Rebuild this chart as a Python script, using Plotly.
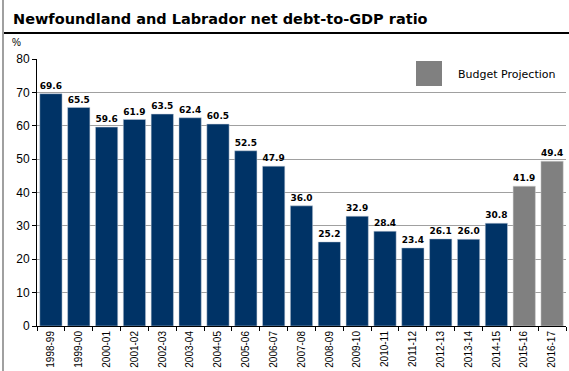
import plotly.graph_objects as go

years = ["1998-99","1999-00","2000-01","2001-02","2002-03","2003-04","2004-05","2005-06",
         "2006-07","2007-08","2008-09","2009-10","2010-11","2011-12","2012-13","2013-14","2014-15"]
actual = [69.6,65.5,59.6,61.9,63.5,62.4,60.5,52.5,47.9,36.0,25.2,32.9,28.4,23.4,26.1,26.0,30.8]
proj_years = ["2015-16","2016-17"]
projection = [41.9,49.4]

W, H = 569, 371
L, R, T, B = 37, 3, 59, 45
pw, ph = W - L - R, H - T - B

def px_x(x):
    return (x - L) / pw

def px_y(y):
    return (H - B - y) / ph

label_font = dict(family="DejaVu Sans", size=10, color="black")

fig = go.Figure()
fig.add_trace(go.Bar(x=years, y=actual, marker_color="#003366", showlegend=False,
                     marker_line=dict(color="#c8d0dc", width=0.5),
                     text=[f"{v:.1f}" for v in actual], textposition="outside",
                     texttemplate="<b>%{text}</b>", textfont=label_font, cliponaxis=False))
fig.add_trace(go.Bar(x=proj_years, y=projection, marker_color="#808080", name="Budget Projection",
                     showlegend=False, marker_line=dict(color="#d0d0d0", width=0.5),
                     text=[f"{v:.1f}" for v in projection], textposition="outside",
                     texttemplate="<b>%{text}</b>", textfont=label_font, cliponaxis=False))

fig.update_layout(
    width=W, height=H, margin=dict(l=L, r=R, t=T, b=B),
    paper_bgcolor="white", plot_bgcolor="white",
    barmode="overlay", bargap=0.2,
    showlegend=False,
    xaxis=dict(type="category", categoryorder="array", categoryarray=years + proj_years,
               tickangle=-90, tickfont=dict(family="Liberation Sans", size=10, color="black"),
               ticks="outside", tickson="boundaries", ticklen=4, tickcolor="black",
               showline=True, linecolor="black", linewidth=1, range=[-0.5, 18.5],
               automargin=False),
    yaxis=dict(range=[0, 80], dtick=10, showgrid=True, gridcolor="#a0a0a0", gridwidth=1,
               ticks="outside", ticklen=4, tickcolor="black", showline=True, linecolor="black",
               tickfont=dict(family="Liberation Sans", size=12, color="black"), zeroline=False,
               automargin=False),
    uniformtext=dict(minsize=9, mode="show"),
)

# legend (swatch + label)
fig.add_shape(type="rect", xref="paper", yref="paper", x0=px_x(412), x1=px_x(562),
              y0=px_y(60), y1=px_y(87), fillcolor="white", line=dict(width=0), layer="above")
fig.add_shape(type="rect", xref="paper", yref="paper", x0=px_x(416), x1=px_x(442),
              y0=px_y(61), y1=px_y(86), fillcolor="#808080", line=dict(width=0), layer="above")
fig.add_annotation(text="Budget Projection", xref="paper", yref="paper", x=px_x(456), y=px_y(74),
                   xanchor="left", yanchor="middle", showarrow=False,
                   font=dict(family="DejaVu Sans", size=11, color="black"))

fig.add_annotation(text="<b>Newfoundland and Labrador net debt-to-GDP ratio</b>",
                   xref="paper", yref="paper", x=px_x(11), y=px_y(19), xanchor="left", yanchor="middle",
                   showarrow=False, font=dict(family="DejaVu Sans", size=14.5, color="black"))
fig.add_annotation(text="%", xref="paper", yref="paper", x=px_x(10), y=px_y(42),
                   xanchor="left", yanchor="middle", showarrow=False,
                   font=dict(family="Liberation Sans", size=10, color="black"))
fig.add_shape(type="line", xref="paper", yref="paper", x0=px_x(3), x1=px_x(569),
              y0=px_y(33), y1=px_y(33), line=dict(color="black", width=2))
fig.add_shape(type="line", xref="paper", yref="paper", x0=px_x(3), x1=px_x(3),
              y0=px_y(0), y1=px_y(371), line=dict(color="#a0a0a0", width=2))

fig.write_html("out.html", config={"displayModeBar": False},
               post_script="document.body.style.margin='0';")
